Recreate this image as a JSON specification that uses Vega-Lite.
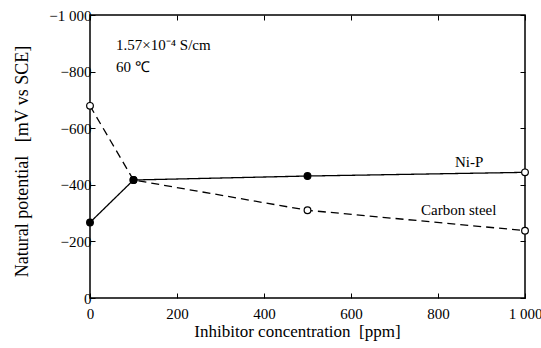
{
  "$schema": "https://vega.github.io/schema/vega-lite/v6.json",
  "width": 435,
  "height": 283,
  "autosize": {"type": "none"},
  "padding": {"left": 90, "top": 15, "right": 16, "bottom": 50},
  "background": "white",
  "config": {
    "view": {"stroke": "black", "strokeWidth": 1.5},
    "font": "Liberation Serif",
    "axis": {
      "labelFont": "Liberation Serif",
      "titleFont": "Liberation Serif",
      "labelColor": "black",
      "titleColor": "black",
      "domain": false,
      "grid": false,
      "tickColor": "black",
      "tickWidth": 1,
      "tickSize": -5,
      "labelFontSize": 15,
      "titleFontSize": 17,
      "titleFontWeight": "normal"
    }
  },
  "datasets": {
    "series": [
      {"series": "Ni-P", "ppm": 0, "potential": -267, "marker": "filled"},
      {"series": "Ni-P", "ppm": 100, "potential": -417, "marker": "filled"},
      {"series": "Ni-P", "ppm": 500, "potential": -431, "marker": "filled"},
      {"series": "Ni-P", "ppm": 1000, "potential": -444, "marker": "open"},
      {"series": "Carbon steel", "ppm": 0, "potential": -679, "marker": "open"},
      {"series": "Carbon steel", "ppm": 100, "potential": -417, "marker": "filled"},
      {"series": "Carbon steel", "ppm": 500, "potential": -310, "marker": "open"},
      {"series": "Carbon steel", "ppm": 1000, "potential": -238, "marker": "open"}
    ],
    "notes": [
      {"ppm": 60, "potential": -894, "label": "1.57×10⁻⁴ S/cm"},
      {"ppm": 60, "potential": -816, "label": "60 ℃"},
      {"ppm": 839, "potential": -480, "label": "Ni-P"},
      {"ppm": 761, "potential": -311, "label": "Carbon steel"}
    ]
  },
  "resolve": {"axis": {"x": "independent", "y": "independent"}},
  "layer": [
    {
      "data": {"name": "series"},
      "mark": {"type": "line", "color": "black", "strokeWidth": 1.3},
      "encoding": {
        "x": {
          "field": "ppm", "type": "quantitative",
          "scale": {"domain": [0, 1000], "nice": false},
          "axis": {
            "values": [0, 200, 400, 600, 800, 1000],
            "title": "Inhibitor concentration \u00a0[ppm]",
            "labelExpr": "datum.value == 1000 ? '1 000' : datum.label",
            "labelPadding": 13,
            "titleX": 207,
            "titleY": 33,
            "titleBaseline": "middle",
            "labelFlush": false
          }
        },
        "y": {
          "field": "potential", "type": "quantitative",
          "scale": {"domain": [-1000, 0], "reverse": true, "nice": false},
          "axis": {
            "values": [-1000, -800, -600, -400, -200, 0],
            "title": "Natural potential \u00a0\u00a0[mV vs SCE]",
            "titleFontSize": 18,
            "labelExpr": "datum.value == 0 ? '0' : (datum.value == -1000 ? '−1 000' : '−' + format(abs(datum.value), 'd'))",
            "labelPadding": 4,
            "titleY": 146,
            "titleX": -68,
            "titleBaseline": "middle",
            "labelFlush": false
          }
        },
        "strokeDash": {
          "field": "series", "type": "nominal",
          "scale": {"domain": ["Ni-P", "Carbon steel"], "range": [[1, 0], [8, 5]]},
          "legend": null
        }
      }
    },
    {
      "data": {"name": "series"},
      "mark": {"type": "point", "shape": "circle", "size": 45, "stroke": "black", "strokeWidth": 1.2, "opacity": 1},
      "encoding": {
        "x": {"field": "ppm", "type": "quantitative", "scale": {"domain": [0, 1000], "nice": false},
          "axis": {"orient": "top", "values": [0, 200, 400, 600, 800, 1000], "labels": false, "title": null}},
        "y": {"field": "potential", "type": "quantitative", "scale": {"domain": [-1000, 0], "reverse": true, "nice": false},
          "axis": {"orient": "right", "values": [-1000, -800, -600, -400, -200, 0], "labels": false, "title": null}},
        "fill": {
          "field": "marker", "type": "nominal",
          "scale": {"domain": ["filled", "open"], "range": ["black", "white"]},
          "legend": null
        }
      }
    },
    {
      "data": {"name": "notes"},
      "mark": {"type": "text", "font": "Liberation Serif", "fontSize": 15, "color": "black", "baseline": "middle", "align": "left"},
      "encoding": {
        "x": {"field": "ppm", "type": "quantitative", "scale": {"domain": [0, 1000], "nice": false}, "axis": null},
        "y": {"field": "potential", "type": "quantitative", "scale": {"domain": [-1000, 0], "reverse": true, "nice": false}, "axis": null},
        "text": {"field": "label"}
      }
    }
  ]
}
